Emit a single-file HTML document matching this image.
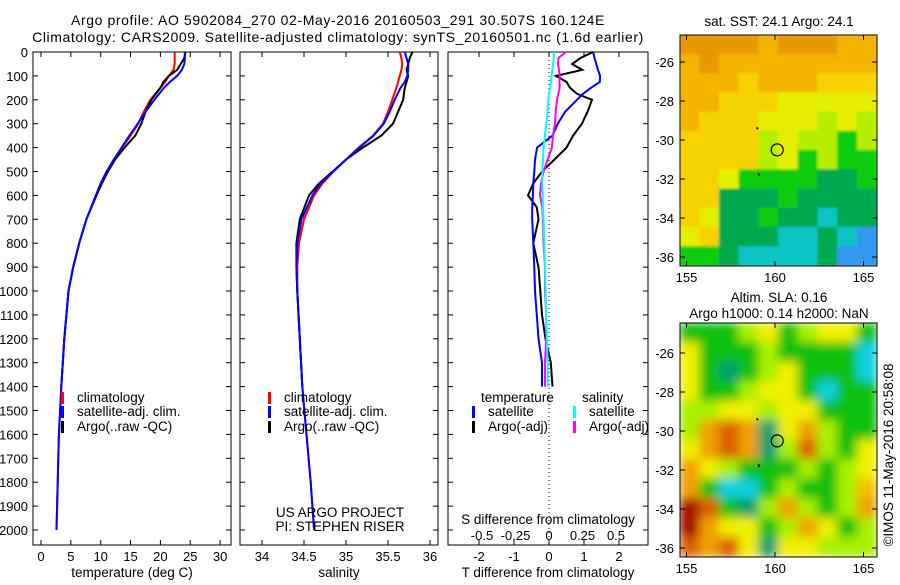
<!DOCTYPE html>
<html><head><meta charset="utf-8"><style>
body{margin:0;background:#fff;width:900px;height:580px;overflow:hidden}
svg text{font-family:"Liberation Sans",sans-serif;font-size:13.5px;fill:#000}
svg text.t{font-size:14px;letter-spacing:0.6px}
svg text.k{font-size:13px}
</style></head><body>
<svg id="s" width="900" height="580" xmlns="http://www.w3.org/2000/svg">
<defs>
<filter id="blur2"><feGaussianBlur stdDeviation="5"/></filter>
<filter id="blur1"><feGaussianBlur stdDeviation="1.2"/></filter>
<clipPath id="c1"><rect x="680" y="35" width="197" height="231"/></clipPath>
<clipPath id="c2"><rect x="680" y="323" width="197" height="234"/></clipPath>
</defs>
<text class="t" x="338" y="25" text-anchor="middle">Argo profile: AO 5902084_270 02-May-2016 20160503_291 30.507S 160.124E</text>
<text class="t" x="338" y="42" text-anchor="middle">Climatology: CARS2009. Satellite-adjusted climatology: synTS_20160501.nc (1.6d earlier)</text>
<g id="g"></g>
</svg>
<script>
// ---- data ----
const depths=[0,25,50,75,100,125,150,200,250,300,350,400,450,500,550,600,700,800,900,1000,1200,1400,1600,1800,2000];
const tempClim=[22.4,22.4,22.4,22.2,21.4,20.8,20,18.3,17.2,16.3,15,13.6,12.2,11,10,9.2,7.6,6.4,5.4,4.6,3.9,3.4,3.0,2.8,2.6];
const tempSat=[24.1,24.1,24.0,23.6,22.8,21.6,20.6,19,17.5,16.2,14.8,13.5,12.2,11,10,9.2,7.6,6.4,5.4,4.6,3.9,3.4,3.0,2.8,2.6];
const tempArgo=[24.2,24,23.4,22.8,21.4,20.5,20,18.5,17.5,16.8,15.8,14,12.4,11.2,10.2,9.3,7.6,6.4,5.4,4.6,3.9,3.4];
const salClim=[35.64,35.66,35.67,35.66,35.64,35.62,35.6,35.55,35.5,35.44,35.32,35.15,35.0,34.85,34.72,34.62,34.5,34.44,34.42,34.42,34.45,34.48,34.53,34.58,34.62];
const salSat=[35.7,35.72,35.74,35.74,35.73,35.7,35.65,35.58,35.52,35.45,35.33,35.16,35.0,34.85,34.7,34.6,34.47,34.42,34.41,34.42,34.45,34.48,34.53,34.58,34.62];
const salArgo=[35.79,35.76,35.74,35.72,35.74,35.72,35.7,35.68,35.62,35.56,35.42,35.2,35.0,34.84,34.68,34.56,34.45,34.41,34.41,34.42,34.45,34.48];
const diffDepths=[0,25,50,75,100,125,150,175,200,250,300,350,400,450,500,550,600,650,700,800,900,1000,1100,1200,1300,1400];
const dTSat=[1.26,1.3,1.35,1.4,1.46,1.45,1.2,0.97,0.8,0.46,0.25,0.1,-0.34,-0.4,-0.42,-0.45,-0.46,-0.48,-0.48,-0.45,-0.42,-0.4,-0.35,-0.3,-0.2,-0.2];
const dTArgo=[1.26,0.9,0.66,0.95,0.2,0.5,0.6,0.8,1.23,1.1,0.94,0.69,0.5,0.15,-0.2,-0.45,-0.6,-0.35,-0.3,-0.45,-0.3,-0.25,-0.2,-0.1,0.05,0.1];
const dSSat=[0.037,0.035,0.03,0.025,0.02,0.015,0.01,0.0,-0.005,-0.01,-0.02,-0.03,-0.04,-0.045,-0.05,-0.05,-0.048,-0.045,-0.04,-0.035,-0.03,-0.025,-0.02,-0.015,-0.01,-0.01];
const dSArgo=[0.127,0.07,0.067,0.075,0.08,0.078,0.08,0.07,0.06,0.05,0.045,0.03,0.022,-0.01,-0.04,-0.06,-0.067,-0.05,-0.045,-0.04,-0.03,-0.03,-0.02,-0.02,-0.03,-0.03];
const depthTicks=[0,100,200,300,400,500,600,700,800,900,1000,1100,1200,1300,1400,1500,1600,1700,1800,1900,2000];
const tempTicks=[0,5,10,15,20,25,30];
const salTicks=[34,34.5,35,35.5,36];
const dTTicks=[-2,-1,0,1,2];
const dSTicks=[-0.5,-0.25,0,0.25,0.5];
const lonTicks=[155,160,165];
const latTicks=[-26,-28,-30,-32,-34,-36];
const sstGrid=["OOOOoOOOoo","oOoooooooo","oooyoooyyy","ooyyyYYYYY","oyyyYYYlYl","yyyylYllgl","yyyylYglgg","yyYggggGGg","yyGGGgGGGG","yYGGgGGcGG","YyGGGccGcb","ggGccccGbb"];
const slaGrid=["ggglYglYYg","YggglggggC","YgTglYgggc","YgglYYgcgg","llYYlYYggg","loOoTYolgg","YoOoTlOlgY","oYlggglglY","ogccglggli","ROgTlolglo","RoYYgloYgl","OoOYTYYlll"];
const colors={O:"#e89800",o:"#f4b400",y:"#f6d200",Y:"#e6ee00",l:"#b6ee00",g:"#10cc10",G:"#00a850",c:"#10c4c4",b:"#3098f0",T:"#00a878",R:"#a01800",i:"#f0c000",C:"#10c4c4"};
const slaColors={O:"#d86000",o:"#f0a000",y:"#f0d000",Y:"#f0f000",l:"#a8f000",g:"#10c010",T:"#00a070",c:"#10d0e0",R:"#a00800",i:"#f0c000",C:"#10d0e0"};
// ---- scales ----
const Y0=52,PY=23.9/100;
const yD=d=>Y0+d*PY;
const P1={x0:33,x1:231}, P2={x0:240,x1:438}, P3={x0:448,x1:648};
const xT=t=>41+5.97*t, xS=s=>262+84*(s-34), xdT=t=>549+35*t, xdS=s=>549+134*s;
const lon1=l=>775+17.7*(l-160);
const NS="http://www.w3.org/2000/svg", G=document.getElementById('g');
function el(tag,attrs,parent){const e=document.createElementNS(NS,tag);for(const k in attrs)e.setAttribute(k,attrs[k]);(parent||G).appendChild(e);return e;}
function txt(x,y,s,anchor,name,cls){const t=el('text',{x:x,y:y,'text-anchor':anchor||'start'});t.textContent=s;if(cls)t.setAttribute('class',cls);

return t;}
function line(xs,ds,xf,color,name,w){const pts=xs.map((v,i)=>xf(v).toFixed(1)+','+yD(ds[i]).toFixed(1)).join(' ');
const p=el('polyline',{points:pts,fill:'none',stroke:color,'stroke-width':w||2});

}
const bottom=545;
function frame(P,name){const r=el('rect',{x:P.x0,y:Y0,width:P.x1-P.x0,height:bottom-Y0,fill:'none',stroke:'#000','stroke-width':1});


depthTicks.forEach(d=>{const y=yD(d);el('line',{x1:P.x0,x2:P.x0+5,y1:y,y2:y,stroke:'#000'});el('line',{x1:P.x1-5,x2:P.x1,y1:y,y2:y,stroke:'#000'});});}
frame(P1,'temperature-panel');frame(P2,'salinity-panel');frame(P3,'difference-panel');
depthTicks.forEach(d=>txt(28,yD(d)+5,String(d),'end','depth-tick-label','k'));
function xticks(P,ticks,xf,y,name){ticks.forEach(t=>{const x=xf(t);el('line',{x1:x,x2:x,y1:Y0,y2:Y0+5,stroke:'#000'});el('line',{x1:x,x2:x,y1:bottom-5,y2:bottom,stroke:'#000'});txt(x,y,String(t),'middle',name,'k');});}
xticks(P1,tempTicks,xT,561,'temperature-tick-label');
xticks(P2,salTicks,xS,561,'salinity-tick-label');
xticks(P3,dTTicks,xdT,561,'t-diff-tick-label');
dSTicks.forEach(s=>txt(xdS(s),540,String(s),'middle','s-diff-tick-label','k'));
txt(132,577,'temperature (deg C)','middle','temperature-axis-title');
txt(339,577,'salinity','middle','salinity-axis-title');
txt(548,577,'T difference from climatology','middle','t-diff-axis-title');
txt(548,524,'S difference from climatology','middle','s-diff-axis-title');
el('line',{x1:549,x2:549,y1:Y0,y2:bottom,stroke:'#000','stroke-dasharray':'1,3'});
line(tempClim,depths,xT,'#f00','temp-climatology-line');
line(tempArgo,depths.slice(0,tempArgo.length),xT,'#000','temp-argo-line');
line(tempSat,depths,xT,'#00f','temp-satellite-line');
line(salClim,depths,xS,'#f00','sal-climatology-line');
line(salArgo,depths.slice(0,salArgo.length),xS,'#000','sal-argo-line');
line(salSat,depths,xS,'#00f','sal-satellite-line');
line(dTArgo,diffDepths,xdT,'#000','dt-argo-line');
line(dTSat,diffDepths,xdT,'#00f','dt-satellite-line');
line(dSArgo,diffDepths,xdS,'#f0f','ds-argo-line');
line(dSSat,diffDepths,xdS,'#0ff','ds-satellite-line');
function leg(x,y,color,label,name){el('rect',{x:x,y:y-10,width:3,height:12,fill:color});txt(x+16,y,label,'start',name);}
[[P1,61],[P2,268]].forEach(([P,x])=>{leg(x,402,'#f00','climatology','legend-climatology');leg(x,416,'#00f','satellite-adj. clim.','legend-satellite-adj');leg(x,431,'#000','Argo(..raw -QC)','legend-argo');});
txt(481,402,'temperature','start','legend-temperature-header');
txt(582,402,'salinity','start','legend-salinity-header');
leg(472,416,'#00f','satellite','legend-t-satellite');leg(472,431,'#000','Argo(-adj)','legend-t-argo');
leg(573,416,'#0ff','satellite','legend-s-satellite');leg(573,431,'#f0f','Argo(-adj)','legend-s-argo');
txt(340,517,'US ARGO PROJECT','middle','project-label');
txt(340,531,'PI: STEPHEN RISER','middle','pi-label');
function map(grid,cols,y0,h,clip,filter,name,ly0){
 const g=el('g',{'clip-path':'url(#'+clip+')'});
 
 
 const inner=el('g',{filter:'url(#'+filter+')'},g);
 const cw=197/10,ch=h/12;
 grid.forEach((row,r)=>{for(let c=0;c<10;c++){const k=row[c];el('rect',{x:680+c*cw-0.5,y:y0+r*ch-0.5,width:cw+1,height:ch+1,fill:cols[k]||'#e6ee00'},inner);}});
 el('rect',{x:680,y:y0,width:197,height:h,fill:'none',stroke:'#000'});
 const latY=l=>ly0+19.5*(-26-l);
 latTicks.forEach(l=>{const y=latY(l);el('line',{x1:680,x2:685,y1:y,y2:y,stroke:'#000'});el('line',{x1:872,x2:877,y1:y,y2:y,stroke:'#000'});txt(674,y+5,String(l),'end','latitude-tick-label','k');});
 lonTicks.forEach(l=>{const x=lon1(l);el('line',{x1:x,x2:x,y1:y0,y2:y0+5,stroke:'#000'});el('line',{x1:x,x2:x,y1:y0+h-5,y2:y0+h,stroke:'#000'});txt(x,y0+h+16,String(l),'middle','longitude-tick-label','k');});
 el('circle',{cx:lon1(160.124),cy:latY(-30.507),r:6,fill:'none',stroke:'#000','stroke-width':1.2});
 el('rect',{x:lon1(159)-1,y:latY(-29.4)-1,width:2,height:2,fill:'#000'});
 el('rect',{x:lon1(159.1)-1,y:latY(-31.7),width:2,height:3,fill:'#000'});
}
map(sstGrid,colors,35,231,'c1','blur1','sst-map',62);
map(slaGrid,slaColors,323,234,'c2','blur2','sla-map',353);
txt(779,26,'sat. SST: 24.1 Argo: 24.1','middle','sst-map-title');
txt(779,302,'Altim. SLA: 0.16','middle','sla-map-title');
txt(779,318,'Argo h1000: 0.14 h2000: NaN','middle','sla-map-subtitle');
const cr=txt(0,0,'\u00a9IMOS 11-May-2016 20:58:08','middle','timestamp-label');
cr.setAttribute('transform','translate(893,455) rotate(-90)');
</script>
</body></html>
